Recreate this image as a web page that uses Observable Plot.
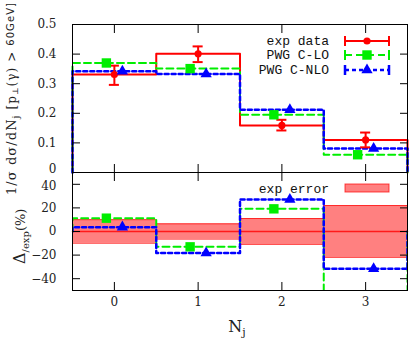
<!DOCTYPE html>
<html>
<head>
<meta charset="utf-8">
<script src="https://cdn.jsdelivr.net/npm/d3@7"></script>
<script src="https://cdn.jsdelivr.net/npm/@observablehq/plot@0.6"></script>
<style>
  body { margin: 0; background: white; }
  #wrap { position: relative; width: 409px; height: 338px; overflow: hidden; }
  #wrap svg { position: absolute; left: 0; }
</style>
</head>
<body>
<div id="wrap"></div>
<script>
// ---- data ----
const nj = [0, 1, 2, 3];
const expData = [0.331, 0.401, 0.159, 0.110];
const expLo = [0.296, 0.373, 0.142, 0.085];
const expHi = [0.361, 0.426, 0.178, 0.135];
const pwgLO = [0.370, 0.351, 0.195, 0.060];
const pwgNLO = [0.342, 0.333, 0.212, 0.081];
const relErr = [10, 6.5, 11, 22];
const deltaLO = [11.3, -13, 19.2, -55];
const deltaNLO = [3.7, -18.3, 27.1, -31.6];
const yTicksTop = [0, 0.1, 0.2, 0.3, 0.4, 0.5];
const yTickLabelsTop = ["0", "0.1", "0.2", "0.3", "0.4", "0.5"];
const yTicksBottom = [-40, -20, 0, 20, 40];
const xTicks = [0, 1, 2, 3];
const legendTop = ["exp data", "PWG C-LO", "PWG C-NLO"];
const legendBottom = ["exp error"];

// ---- styles ----
const RED = "#ff0000", GREEN = "#00ee00", BLUE = "#0000ff", BAND = "#ff8080";
const SERIF = "DejaVu Serif";
const MONO = "Liberation Mono";

function steps(vals) {
  const pts = [{x: nj[0] - 0.5, y: 0}];
  vals.forEach((v, i) => { pts.push({x: nj[i] - 0.5, y: v}, {x: nj[i] + 0.5, y: v}); });
  pts.push({x: nj[nj.length - 1] + 0.5, y: 0});
  return pts;
}
const rows = nj.map((n, i) => ({n, exp: expData[i], lo: expLo[i], hi: expHi[i], LO: pwgLO[i], NLO: pwgNLO[i],
  err: relErr[i], dLO: deltaLO[i], dNLO: deltaNLO[i]}));

const blank = () => "";
function tickMarks(yt) {
  return [
    Plot.axisY(yt, {anchor: "left", tickSize: -8, tickFormat: blank, label: null, stroke: "black"}),
    Plot.axisY(yt, {anchor: "right", tickSize: -8, tickFormat: blank, label: null, stroke: "black"}),
    Plot.axisX(xTicks, {anchor: "top", tickSize: -8, tickFormat: blank, label: null, stroke: "black"}),
    Plot.axisX(xTicks, {anchor: "bottom", tickSize: -8, tickFormat: blank, label: null, stroke: "black"})
  ];
}
const yTextOpts = {anchor: "left", tickSize: 0, tickPadding: 16, fontSize: 12, fontFamily: SERIF, color: "#222", label: null};
const topLabel = d => yTickLabelsTop[yTicksTop.indexOf(d)];

const topPlot = Plot.plot({
  width: 409, height: 180,
  marginLeft: 72, marginRight: 2, marginTop: 24, marginBottom: 8,
  style: {background: "transparent", overflow: "visible"},
  x: {domain: [-0.5, 3.5]},
  y: {domain: [0, 0.5]},
  marks: [
    Plot.line(steps(expData), {x: "x", y: "y", stroke: RED, strokeWidth: 2}),
    Plot.line(steps(pwgLO), {x: "x", y: "y", stroke: GREEN, strokeWidth: 2, strokeDasharray: "7,4"}),
    Plot.line(steps(pwgNLO), {x: "x", y: "y", stroke: BLUE, strokeWidth: 2.5, strokeDasharray: "4,3"}),
    Plot.ruleX(rows, {x: "n", y1: "lo", y2: "hi", stroke: RED, strokeWidth: 2}),
    Plot.ruleY(rows, {y: "lo", x1: d => d.n - 0.06, x2: d => d.n + 0.06, stroke: RED, strokeWidth: 2}),
    Plot.ruleY(rows, {y: "hi", x1: d => d.n - 0.06, x2: d => d.n + 0.06, stroke: RED, strokeWidth: 2}),
    Plot.dot(rows, {x: "n", y: "exp", r: 3.6, fill: RED, stroke: null}),
    Plot.dot(rows, {x: "n", y: "LO", dx: -8, symbol: "square", r: 5.3, fill: GREEN, stroke: null}),
    Plot.dot(rows, {x: "n", y: "NLO", dx: 8, symbol: "triangle", r: 4.2, fill: BLUE, stroke: null}),
    Plot.frame({stroke: "black", strokeWidth: 1}),
    ...tickMarks(yTicksTop),
    Plot.axisY(yTicksTop.filter(d => d > 0), {...yTextOpts, tickFormat: topLabel}),
    Plot.axisY(yTicksTop.filter(d => d === 0), {...yTextOpts, dy: -3, tickFormat: topLabel})
  ]
});
topPlot.style.top = "0px";

const bottomPlot = Plot.plot({
  width: 409, height: 166,
  marginLeft: 72, marginRight: 2, marginTop: 0, marginBottom: 48,
  style: {background: "transparent", overflow: "visible"},
  x: {domain: [-0.5, 3.5]},
  y: {domain: [-50, 50]},
  marks: [
    Plot.rect(rows, {x1: d => d.n - 0.5, x2: d => d.n + 0.5, y1: d => -d.err, y2: d => d.err, fill: BAND}),
    Plot.ruleY(rows, {y: d => d.err, x1: d => d.n - 0.5, x2: d => d.n + 0.5, stroke: RED, strokeWidth: 1, strokeOpacity: 0.7}),
    Plot.ruleY(rows, {y: d => -d.err, x1: d => d.n - 0.5, x2: d => d.n + 0.5, stroke: RED, strokeWidth: 1, strokeOpacity: 0.7}),
    Plot.line(steps(nj.map(() => 0)), {x: "x", y: "y", stroke: RED, strokeWidth: 1.5, strokeOpacity: 0.8}),
    Plot.line(steps(deltaLO), {x: "x", y: "y", stroke: GREEN, strokeWidth: 2, strokeDasharray: "7,4", clip: true}),
    Plot.dot(rows.filter(d => d.dLO > -50), {x: "n", y: "dLO", dx: -8, symbol: "square", r: 5.3, fill: GREEN, stroke: null}),
    Plot.line(steps(deltaNLO), {x: "x", y: "y", stroke: BLUE, strokeWidth: 2.5, strokeDasharray: "4,3", clip: true}),
    Plot.dot(rows, {x: "n", y: "dNLO", dx: 8, symbol: "triangle", r: 4.2, fill: BLUE, stroke: null}),
    Plot.frame({stroke: "black", strokeWidth: 1}),
    ...tickMarks(yTicksBottom),
    Plot.axisY(yTicksBottom.filter(d => d < 40), yTextOpts),
    Plot.axisY(yTicksBottom.filter(d => d === 40), {...yTextOpts, dy: 2}),
    Plot.axisX(xTicks, {anchor: "bottom", tickSize: 0, tickPadding: 7, fontSize: 12, fontFamily: SERIF, color: "#222", label: null})
  ]
});
bottomPlot.style.top = "172px";

const wrap = document.getElementById("wrap");
wrap.appendChild(topPlot);
wrap.appendChild(bottomPlot);

// ---- overlay: axis titles and legends ----
const ov = d3.select(wrap).append("svg")
  .attr("width", 409).attr("height", 338)
  .style("top", "0px").style("pointer-events", "none");

// top y title
const t1 = ov.append("text")
  .attr("transform", "translate(16,195) rotate(-90)")
  .attr("font-family", SERIF).attr("font-size", 13).attr("fill", "#222")
  .attr("textLength", 192).attr("lengthAdjust", "spacing");
t1.append("tspan").text("1/σ dσ/dN");
t1.append("tspan").attr("font-size", 9).attr("dy", 3).text("j");
t1.append("tspan").attr("font-size", 12).attr("dy", -3).text(" [p");
t1.append("tspan").attr("font-size", 8).attr("dy", 2).text("⊥");
t1.append("tspan").attr("font-size", 12).attr("dy", -2).text("(γ) > ");
t1.append("tspan").attr("font-size", 10).attr("dy", -2).attr("font-family", "DejaVu Sans").text("60GeV]");

// bottom y title
const t2 = ov.append("text")
  .attr("transform", "translate(25,264) rotate(-90)")
  .attr("font-family", SERIF).attr("font-size", 16).attr("fill", "#222");
t2.append("tspan").text("Δ");
t2.append("tspan").attr("font-size", 10).attr("dy", 4).text("/exp");
t2.append("tspan").attr("font-size", 13).attr("dy", -4).text("(%)");

// x title
const t3 = ov.append("text").attr("x", 237).attr("y", 332)
  .attr("font-family", SERIF).attr("font-size", 16).attr("fill", "#222").attr("text-anchor", "middle");
t3.append("tspan").text("N");
t3.append("tspan").attr("font-size", 11).attr("dy", 4).text("j");

// legend top
const lx0 = 345, lx1 = 389, lxm = 367, ltx = 329;
const ly = [41, 55, 70];
const lcol = [RED, GREEN, BLUE];
const ldash = [null, "7,4", "4,3"];
const lw = [2, 2, 2.5];
legendTop.forEach((lab, i) => {
  ov.append("text").attr("x", ltx).attr("y", ly[i] + 4).attr("text-anchor", "end")
    .attr("font-family", MONO).attr("font-size", 13).attr("fill", "#111").text(lab);
  ov.append("line").attr("x1", lx0).attr("x2", lx1).attr("y1", ly[i]).attr("y2", ly[i])
    .attr("stroke", lcol[i]).attr("stroke-width", lw[i]).attr("stroke-dasharray", ldash[i]);
  [lx0, lx1].forEach(x => ov.append("line").attr("x1", x).attr("x2", x).attr("y1", ly[i] - 5).attr("y2", ly[i] + 5)
    .attr("stroke", lcol[i]).attr("stroke-width", lw[i]));
});
ov.append("circle").attr("cx", lxm).attr("cy", ly[0]).attr("r", 3.6).attr("fill", RED);
ov.append("rect").attr("x", lxm - 4.7).attr("y", ly[1] - 4.7).attr("width", 9.4).attr("height", 9.4).attr("fill", GREEN);
ov.append("path").attr("transform", `translate(${lxm},${ly[2]})`)
  .attr("d", d3.symbol(d3.symbolTriangle, Math.PI * 4.2 * 4.2)()).attr("fill", BLUE);

// legend bottom
ov.append("text").attr("x", ltx).attr("y", 193).attr("text-anchor", "end")
  .attr("font-family", MONO).attr("font-size", 13).attr("fill", "#111").text(legendBottom[0]);
ov.append("rect").attr("x", lx0).attr("y", 184).attr("width", lx1 - lx0).attr("height", 8)
  .attr("fill", BAND).attr("stroke", RED).attr("stroke-width", 1).attr("stroke-opacity", 0.7);
</script>
</body>
</html>
